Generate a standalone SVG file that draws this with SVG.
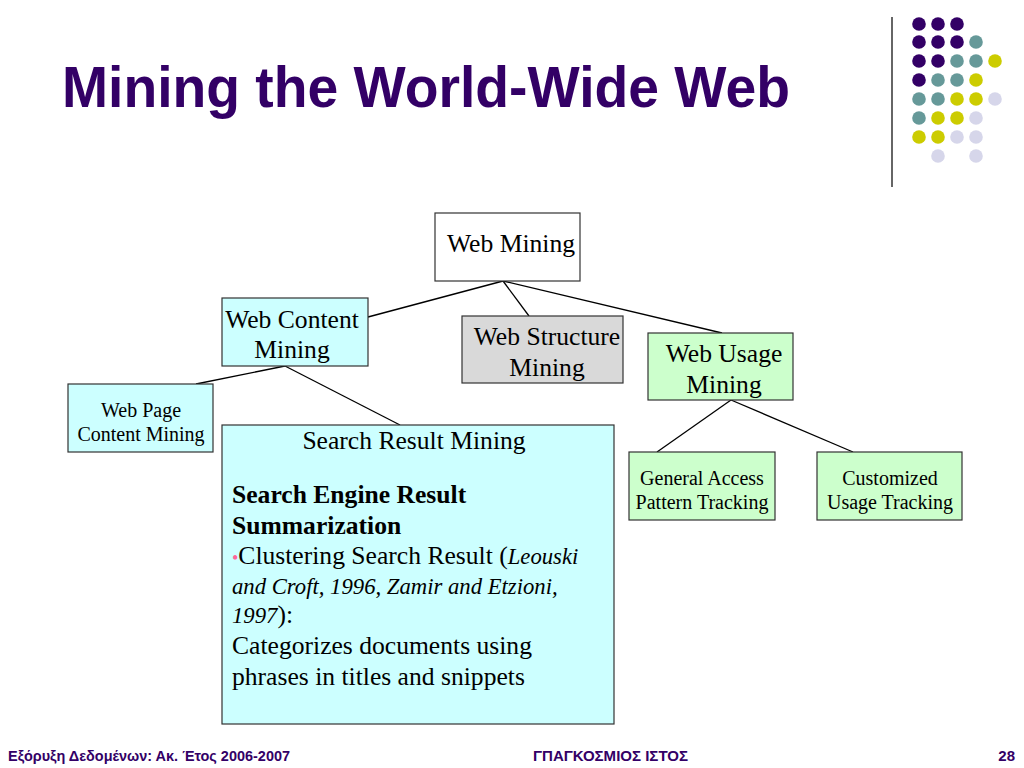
<svg xmlns="http://www.w3.org/2000/svg" width="1024" height="768" viewBox="0 0 1024 768">
<style>
.box{stroke:#333;stroke-width:1.2}
.w{fill:#ffffff}
.c{fill:#ccffff}
.g{fill:#ccffcc}
.s{fill:#d9d9d9}
.t{font-family:"Liberation Serif","Times New Roman",serif;fill:#000}
.l{font-size:25.6px}
.m{font-size:20px}
.i{font-style:italic;font-size:22.7px}
.b{font-weight:bold}
.conn line{stroke:#000;stroke-width:1.3}
.dp{fill:#330066}.dt{fill:#669999}.dy{fill:#cccc00}.dl{fill:#d6d6ea}
.foot{font-family:"Liberation Sans Narrow","Liberation Sans",Arial,sans-serif;font-size:15px;font-weight:bold;fill:#330066}
</style>
<rect width="1024" height="768" fill="#fff"/>
<text x="62" y="107" font-family="'Liberation Sans Narrow','Liberation Sans',Arial,sans-serif" font-weight="bold" font-size="58" fill="#330066" textLength="728" lengthAdjust="spacingAndGlyphs">Mining the World-Wide Web</text>
<line x1="892" y1="17" x2="892" y2="187" stroke="#333" stroke-width="1.5"/>
<g id="dots">
<circle class="dp" cx="919" cy="24" r="6.8"/><circle class="dp" cx="938" cy="24" r="6.8"/><circle class="dp" cx="957" cy="24" r="6.8"/>
<circle class="dp" cx="919" cy="42" r="6.8"/><circle class="dp" cx="938" cy="42" r="6.8"/><circle class="dp" cx="957" cy="42" r="6.8"/><circle class="dt" cx="976" cy="42" r="6.8"/>
<circle class="dp" cx="919" cy="61" r="6.8"/><circle class="dp" cx="938" cy="61" r="6.8"/><circle class="dt" cx="957" cy="61" r="6.8"/><circle class="dt" cx="976" cy="61" r="6.8"/><circle class="dy" cx="995" cy="61" r="6.8"/>
<circle class="dp" cx="919" cy="80" r="6.8"/><circle class="dt" cx="938" cy="80" r="6.8"/><circle class="dt" cx="957" cy="80" r="6.8"/><circle class="dy" cx="976" cy="80" r="6.8"/>
<circle class="dt" cx="919" cy="99" r="6.8"/><circle class="dt" cx="938" cy="99" r="6.8"/><circle class="dy" cx="957" cy="99" r="6.8"/><circle class="dy" cx="976" cy="99" r="6.8"/><circle class="dl" cx="995" cy="99" r="6.8"/>
<circle class="dt" cx="919" cy="118" r="6.8"/><circle class="dy" cx="938" cy="118" r="6.8"/><circle class="dy" cx="957" cy="118" r="6.8"/><circle class="dl" cx="976" cy="118" r="6.8"/>
<circle class="dy" cx="919" cy="137" r="6.8"/><circle class="dy" cx="938" cy="137" r="6.8"/><circle class="dl" cx="957" cy="137" r="6.8"/><circle class="dl" cx="976" cy="137" r="6.8"/>
<circle class="dl" cx="938" cy="156" r="6.8"/><circle class="dl" cx="976" cy="156" r="6.8"/>
</g>
<g id="connectors" class="conn">
<line x1="503" y1="281" x2="368" y2="317"/>
<line x1="503" y1="281" x2="529" y2="316"/>
<line x1="503" y1="281" x2="722" y2="333"/>
<line x1="285" y1="366" x2="196" y2="384"/>
<line x1="285" y1="366" x2="400" y2="425" stroke-width="0.8"/>
<line x1="731" y1="400" x2="657" y2="452"/>
<line x1="731" y1="400" x2="853" y2="452"/>
</g>
<g id="web-mining">
<rect class="box w" x="435" y="213" width="145" height="68"/>
<text class="t l" x="511" y="252" text-anchor="middle">Web Mining</text>
</g>
<g id="web-content-mining">
<rect class="box c" x="222" y="298" width="146" height="68"/>
<text class="t l" x="292" y="328" text-anchor="middle">Web Content</text>
<text class="t l" x="292" y="358" text-anchor="middle">Mining</text>
</g>
<g id="web-structure-mining">
<rect class="box s" x="462" y="316" width="161" height="67"/>
<text class="t l" x="547" y="345" text-anchor="middle">Web Structure</text>
<text class="t l" x="547" y="376" text-anchor="middle">Mining</text>
</g>
<g id="web-usage-mining">
<rect class="box g" x="648" y="333" width="145" height="67"/>
<text class="t l" x="724" y="362" text-anchor="middle">Web Usage</text>
<text class="t l" x="724" y="393" text-anchor="middle">Mining</text>
</g>
<g id="web-page-content-mining">
<rect class="box c" x="68" y="384" width="145" height="68"/>
<text class="t m" x="141" y="417" text-anchor="middle">Web Page</text>
<text class="t m" x="141" y="441" text-anchor="middle">Content Mining</text>
</g>
<g id="general-access">
<rect class="box g" x="629" y="452" width="146" height="68"/>
<text class="t m" x="702" y="485" text-anchor="middle">General Access</text>
<text class="t m" x="702" y="509" text-anchor="middle">Pattern Tracking</text>
</g>
<g id="customized-usage">
<rect class="box g" x="817" y="452" width="145" height="68"/>
<text class="t m" x="890" y="485" text-anchor="middle">Customized</text>
<text class="t m" x="890" y="509" text-anchor="middle">Usage Tracking</text>
</g>
<g id="search-result-mining">
<rect class="box c" x="222" y="425" width="392" height="299"/>
<text class="t l" x="414" y="449" text-anchor="middle">Search Result Mining</text>
<text class="t l b" x="232" y="503">Search Engine Result</text>
<text class="t l b" x="232" y="534">Summarization</text>
<text class="t l" x="232" y="564"><tspan fill="#ff6699" font-size="18">•</tspan>Clustering Search Result (<tspan class="i">Leouski</tspan></text>
<text class="t i" x="232" y="594">and Croft, 1996, Zamir and Etzioni,</text>
<text class="t l" x="232" y="623"><tspan class="i">1997</tspan>):</text>
<text class="t l" x="232" y="654">Categorizes documents using</text>
<text class="t l" x="232" y="685">phrases in titles and snippets</text>
</g>
<g id="footer">
<text class="foot" x="8" y="761" textLength="282" lengthAdjust="spacingAndGlyphs">Εξόρυξη Δεδομένων: Ακ. Έτος 2006-2007</text>
<text class="foot" x="533" y="761" textLength="155" lengthAdjust="spacingAndGlyphs">ΓΠΑΓΚΟΣΜΙΟΣ ΙΣΤΟΣ</text>
<text class="foot" x="1015" y="761" text-anchor="end">28</text>
</g>
</svg>
